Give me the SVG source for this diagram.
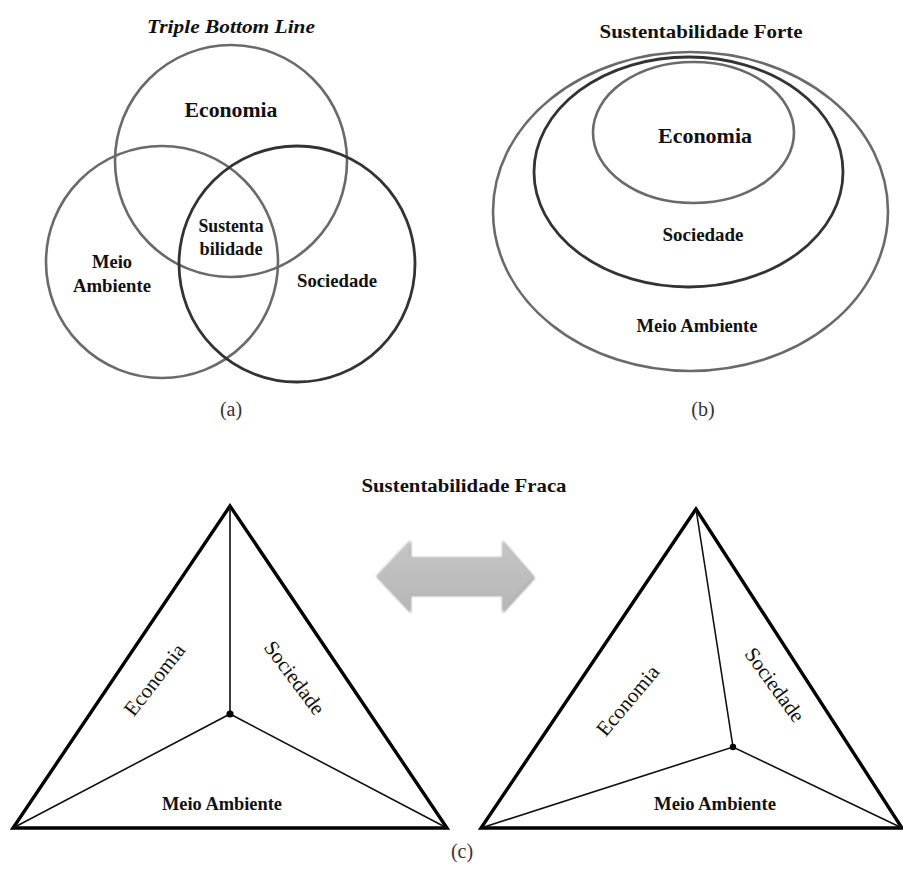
<svg xmlns="http://www.w3.org/2000/svg" width="903" height="875" viewBox="0 0 903 875">
  <style>
    text { font-family: "Liberation Serif", "Times New Roman", serif; fill: #111; }
    .title { font-size: 19px; font-weight: bold; text-anchor: middle; }
    .lbl { font-size: 21px; font-weight: bold; text-anchor: middle; }
    .lbl-s { font-size: 18.5px; font-weight: bold; text-anchor: middle; }
    .cap { font-size: 20px; text-anchor: middle; fill: #333; }
    .rot { font-size: 21px; text-anchor: middle; }
    .ring { fill: none; stroke: #6a6a6a; stroke-width: 2.6; }
    .ring-dark { fill: none; stroke: #333; stroke-width: 2.8; }
    .tri { fill: #fff; stroke: #000; stroke-width: 3.4; stroke-linejoin: miter; }
    .spoke { stroke: #111; stroke-width: 1.6; fill: none; }
  </style>
  <defs>
    <linearGradient id="arrowFill" x1="0" y1="0" x2="0" y2="1">
      <stop offset="0" stop-color="#c6c6c6"/>
      <stop offset="1" stop-color="#b6b6b6"/>
    </linearGradient>
    <filter id="soft" x="-10%" y="-20%" width="120%" height="140%">
      <feGaussianBlur stdDeviation="0.8"/>
    </filter>
  </defs>

  <rect width="903" height="875" fill="#fff"/>

  <!-- (a) Triple Bottom Line -->
  <g id="tbl">
    <text class="title" x="231" y="33" font-style="italic" font-size="20" textLength="168" lengthAdjust="spacingAndGlyphs">Triple Bottom Line</text>
    <g id="tbl-economia">
      <circle class="ring" cx="231" cy="161" r="116"/>
      <text class="lbl" x="231" y="117" textLength="93" lengthAdjust="spacingAndGlyphs">Economia</text>
    </g>
    <g id="tbl-meio-ambiente">
      <circle class="ring" cx="162" cy="262" r="116"/>
      <text class="lbl-s" x="112" y="268">Meio</text>
      <text class="lbl-s" x="112" y="292" textLength="78" lengthAdjust="spacingAndGlyphs">Ambiente</text>
    </g>
    <g id="tbl-sociedade">
      <circle class="ring-dark" cx="297" cy="264" r="118"/>
      <text class="lbl-s" x="337" y="287" textLength="80" lengthAdjust="spacingAndGlyphs">Sociedade</text>
    </g>
    <g id="tbl-sustentabilidade">
      <text class="lbl-s" x="231" y="232" font-size="18" textLength="65" lengthAdjust="spacingAndGlyphs">Sustenta</text>
      <text class="lbl-s" x="231" y="255" font-size="18" textLength="63" lengthAdjust="spacingAndGlyphs">bilidade</text>
    </g>
    <text class="cap" x="231" y="416">(a)</text>
  </g>

  <!-- (b) Sustentabilidade Forte -->
  <g id="forte">
    <text class="title" x="701" y="38" textLength="203" lengthAdjust="spacingAndGlyphs">Sustentabilidade Forte</text>
    <g id="forte-meio-ambiente">
      <ellipse class="ring" cx="690.5" cy="211.5" rx="197.5" ry="159.5"/>
      <text class="lbl-s" x="697" y="332" textLength="121" lengthAdjust="spacingAndGlyphs">Meio Ambiente</text>
    </g>
    <g id="forte-sociedade">
      <ellipse class="ring-dark" cx="688.5" cy="172" rx="154.5" ry="115"/>
      <text class="lbl-s" x="703" y="241" textLength="81" lengthAdjust="spacingAndGlyphs">Sociedade</text>
    </g>
    <g id="forte-economia">
      <ellipse class="ring" cx="693.5" cy="132.5" rx="100.5" ry="70.5"/>
      <text class="lbl" x="705" y="143" textLength="94" lengthAdjust="spacingAndGlyphs">Economia</text>
    </g>
    <text class="cap" x="703" y="416">(b)</text>
  </g>

  <!-- (c) Sustentabilidade Fraca -->
  <g id="fraca">
    <text class="title" x="464" y="492" textLength="205" lengthAdjust="spacingAndGlyphs">Sustentabilidade Fraca</text>

    <g id="fraca-equilibrio">
      <polygon class="tri" points="230,506 13,828 447,828"/>
      <path class="spoke" d="M230,506 L230,714 M13,828 L230,714 L447,828"/>
      <circle cx="230" cy="714" r="3.6" fill="#000"/>
      <text class="rot" transform="translate(160,684) rotate(-52)">Economia</text>
      <text class="rot" transform="translate(289,682) rotate(53)">Sociedade</text>
      <text class="lbl-s" x="222" y="810" textLength="120" lengthAdjust="spacingAndGlyphs">Meio Ambiente</text>
    </g>

    <g id="fraca-troca">
      <path d="M376,576 L410,540 L410,557 L502,557 L502,540 L534,577 L502,612 L502,595 L410,595 L410,612 Z" fill="#a8a8a8" filter="url(#soft)" transform="translate(1.2,1.2)"/>
      <path d="M376,576 L410,540 L410,557 L502,557 L502,540 L534,577 L502,612 L502,595 L410,595 L410,612 Z" fill="url(#arrowFill)" filter="url(#soft)"/>
    </g>

    <g id="fraca-desequilibrio">
      <polygon class="tri" points="696,509 481,828 902,828"/>
      <path class="spoke" d="M696,509 L733,747 M481,828 L733,747 L902,828"/>
      <circle cx="733" cy="747" r="3.2" fill="#000"/>
      <text class="rot" transform="translate(633,705) rotate(-50)">Economia</text>
      <text class="rot" transform="translate(769,689) rotate(54)">Sociedade</text>
      <text class="lbl-s" x="715" y="810" textLength="122" lengthAdjust="spacingAndGlyphs">Meio Ambiente</text>
    </g>

    <text class="cap" x="462" y="858">(c)</text>
  </g>
</svg>
